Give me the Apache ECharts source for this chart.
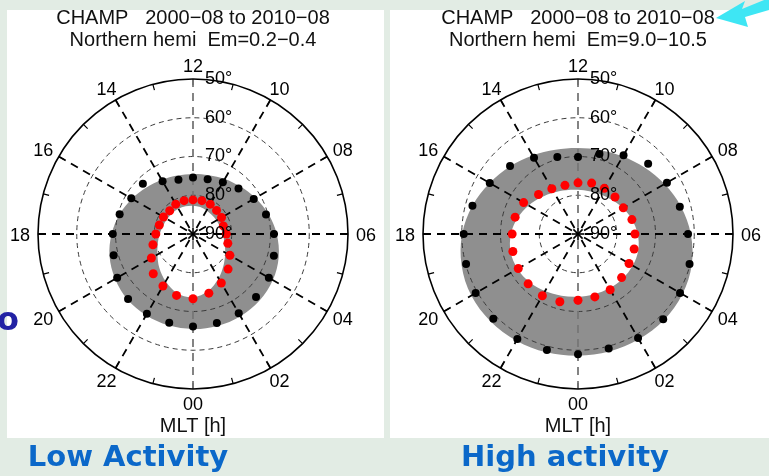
<!DOCTYPE html>
<html>
<head>
<meta charset="utf-8">
<script src="https://cdn.jsdelivr.net/npm/echarts@6/dist/echarts.min.js"></script>
<style>
  html, body { margin: 0; padding: 0; background: #e2ece4; }
  #chart { width: 769px; height: 476px; }
</style>
</head>
<body>
<div id="chart"></div>
<script>
// Magnetic local time of each boundary sample (hours)
const mlt = [0, 1, 2, 3, 4, 5, 6, 7, 8, 9, 10, 11, 12, 13, 14, 15, 16, 17, 18, 19, 20, 21, 22, 23];

// Hour ticks around the dial and latitude rings (degrees)
const hourTicks = [0, 2, 4, 6, 8, 10, 12, 14, 16, 18, 20, 22];
const latRings = [50, 60, 70, 80, 90];

// Low activity (Em = 0.2-0.4): equatorward / poleward boundary latitudes
const lowEquatorward = [66.1, 66.2, 66.4, 67.0, 67.4, 68.4, 69.1, 70.5, 71.9, 73.4, 74.6, 75.4,
                        75.4, 75.5, 74.3, 71.7, 71.6, 70.4, 69.3, 68.8, 67.4, 66.3, 66.2, 66.3];
const lowPoleward    = [73.3, 74.2, 75.4, 77.2, 79.0, 80.7, 81.4, 81.9, 81.5, 81.4, 81.1, 81.1,
                        81.2, 81.1, 81.1, 81.5, 81.2, 81.0, 80.4, 79.3, 77.6, 75.5, 74.5, 73.6];
// Low activity: shaded oval edges
const lowOvalOuter   = [65.5, 65.45, 65.5, 65.7, 66.2, 67.1, 68.4, 69.9, 71.4, 72.7, 73.6, 74.3,
                        74.5, 74.4, 73.9, 73.0, 71.8, 70.4, 69.0, 67.7, 66.8, 66.1, 65.8, 65.6];
const lowOvalInner   = [73.7, 74.8, 76.8, 78.8, 80.4, 81.6, 82.3, 82.8, 83.0, 83.1, 83.0, 82.8,
                        82.7, 82.6, 82.5, 82.4, 82.3, 82.0, 81.4, 80.6, 79.4, 77.7, 75.9, 74.2];

// High activity (Em = 9.0-10.5)
const highEquatorward = [59.0, 59.4, 59.0, 58.9, 59.6, 60.2, 61.6, 62.8, 63.5, 64.4, 66.5, 68.6,
                         70.1, 69.4, 67.3, 65.2, 63.7, 61.8, 60.5, 60.1, 59.5, 59.1, 58.7, 59.0];
const highPoleward    = [72.9, 73.2, 73.4, 74.1, 74.8, 75.0, 75.3, 75.6, 76.5, 76.5, 76.4, 76.4,
                         76.8, 77.0, 76.5, 75.6, 73.8, 73.2, 73.0, 72.6, 72.2, 71.8, 71.6, 71.9];
const highOvalOuter   = [58.6, 58.6, 58.6, 58.6, 58.9, 59.6, 60.9, 62.5, 64.2, 65.7, 66.9, 67.6,
                         67.8, 67.5, 66.6, 65.3, 63.7, 61.8, 60.1, 58.9, 58.2, 58.1, 58.2, 58.4];
const highOvalInner   = [73.8, 73.9, 73.8, 73.7, 73.7, 73.9, 74.6, 75.6, 76.6, 77.6, 78.2, 78.6,
                         78.6, 78.3, 77.6, 76.6, 75.3, 73.9, 72.7, 72.0, 72.0, 72.4, 73.0, 73.5];

const panelTitles = [
  'CHAMP   2000\u221208 to 2010\u221208\nNorthern hemi  Em=0.2\u22120.4',
  'CHAMP   2000\u221208 to 2010\u221208\nNorthern hemi  Em=9.0\u221210.5'
];
const activityLabels = ['Low Activity', 'High activity'];

const FONT = '"Liberation Sans", Arial, Helvetica, sans-serif';
const BOLD_FONT = '"DejaVu Sans", Verdana, sans-serif';
const centers = [[193, 234], [578, 234]];
const R = 155;

function pad2(v) { return v < 10 ? '0' + v : String(v); }

function angleAxisFor(i) {
  return {
    polarIndex: i, type: 'value', min: 0, max: 24, interval: 2,
    startAngle: 270, clockwise: false, z: 3,
    axisLine: { show: true, lineStyle: { color: '#000', width: 1.6 } },
    axisTick: { show: true, inside: true, length: 6, lineStyle: { color: '#000', width: 1.2 } },
    minorTick: { show: true, splitNumber: 2, length: 6, lineStyle: { color: '#000', width: 1.2 } },
    axisLabel: { show: false },
    splitLine: {
      show: true,
      lineStyle: {
        color: ['#777', '#000', '#000', '#000', '#000', '#000', '#777',
                '#000', '#000', '#000', '#000', '#000', '#777'],
        width: 1.8, type: [8, 6]
      }
    }
  };
}

function radiusAxisFor(i) {
  return {
    polarIndex: i, type: 'value', min: 50, max: 90, interval: 10, inverse: true, z: 3,
    axisLine: { show: false }, axisTick: { show: false }, axisLabel: { show: false },
    splitLine: {
      show: true,
      lineStyle: {
        color: ['rgba(0,0,0,0)', '#3a3a3a', '#3a3a3a', '#3a3a3a', 'rgba(0,0,0,0)'],
        width: 1, type: [5, 4]
      }
    }
  };
}

// Shaded auroral oval: outer edge filled grey, inner hole filled white
function ovalRenderer(outer, inner) {
  return function (params, api) {
    const o = mlt.map((h, k) => api.coord([outer[k], h]));
    const n = mlt.map((h, k) => api.coord([inner[k], h]));
    return {
      type: 'group',
      children: [
        { type: 'polygon', shape: { points: o, smooth: 0.35 }, style: { fill: '#8f8f8f' } },
        { type: 'polygon', shape: { points: n, smooth: 0.35 }, style: { fill: '#ffffff' } }
      ]
    };
  };
}

// Asterisk marking the magnetic pole
function poleRenderer(params, api) {
  const c = api.coord([90, 0]);
  const L = 6.5, d = L * Math.SQRT1_2;
  const seg = (x1, y1, x2, y2) => ({
    type: 'line', shape: { x1: c[0] + x1, y1: c[1] + y1, x2: c[0] + x2, y2: c[1] + y2 },
    style: { stroke: '#000', lineWidth: 1.6 }
  });
  return {
    type: 'group',
    children: [seg(-L, 0, L, 0), seg(0, -L, 0, L), seg(-d, -d, d, d), seg(-d, d, d, -d)]
  };
}

// Hour labels sit just outside the rim, pushed outward along each hour's direction
function hourLabelItem(h) {
  const a = h * Math.PI / 12;
  return {
    value: [50, h],
    label: { offset: [18 * Math.sin(a), 14 * Math.cos(a) + 2] }
  };
}

function panelSeries(i, eq, pole, outer, inner) {
  return [
    { type: 'custom', coordinateSystem: 'polar', polarIndex: i, z: 1, silent: true,
      data: [[90, 0]], renderItem: ovalRenderer(outer, inner) },
    { type: 'scatter', coordinateSystem: 'polar', polarIndex: i, z: 5, symbolSize: 8,
      itemStyle: { color: '#000', opacity: 1 }, data: mlt.map((h, k) => [eq[k], h]) },
    { type: 'scatter', coordinateSystem: 'polar', polarIndex: i, z: 5, symbolSize: 9,
      itemStyle: { color: '#ff0000', opacity: 1 }, data: mlt.map((h, k) => [pole[k], h]) },
    { type: 'custom', coordinateSystem: 'polar', polarIndex: i, z: 6, silent: true,
      data: [[90, 0]], renderItem: poleRenderer },
    { type: 'scatter', coordinateSystem: 'polar', polarIndex: i, z: 7, symbolSize: 0,
      itemStyle: { opacity: 1 }, silent: true,
      data: latRings.map(v => [v, 12]),
      label: { show: true, position: 'right', distance: 12, fontSize: 18, color: '#000',
               fontFamily: FONT, formatter: p => p.value[0] + '\u00b0' } },
    { type: 'scatter', coordinateSystem: 'polar', polarIndex: i, z: 7, symbolSize: 0,
      itemStyle: { opacity: 1 }, silent: true,
      data: hourTicks.map(hourLabelItem),
      label: { show: true, position: 'inside', align: 'center', verticalAlign: 'middle',
               fontSize: 18, color: '#000', fontFamily: FONT,
               formatter: p => pad2(p.value[1]) } }
  ];
}

const chart = echarts.init(document.getElementById('chart'), null, { renderer: 'canvas' });

const titles = [];
centers.forEach((c, i) => {
  titles.push({
    text: panelTitles[i], left: c[0], top: 7, textAlign: 'center', padding: 0,
    textStyle: { fontFamily: FONT, fontSize: 20, fontWeight: 'normal', color: '#111', lineHeight: 22.5 }
  });
  titles.push({
    text: 'MLT [h]', left: c[0], top: 416, textAlign: 'center', padding: 0,
    textStyle: { fontFamily: FONT, fontSize: 20, fontWeight: 'normal', color: '#111' }
  });
});
titles.push({
  text: activityLabels[0], left: 128, top: 444, textAlign: 'center', padding: 0,
  textStyle: { fontFamily: BOLD_FONT, fontSize: 29, fontWeight: 'bold', color: '#0b68c9' }
});
titles.push({
  text: activityLabels[1], left: 565, top: 444, textAlign: 'center', padding: 0,
  textStyle: { fontFamily: BOLD_FONT, fontSize: 29, fontWeight: 'bold', color: '#0b68c9' }
});
titles.push({
  text: 'o', left: -3, top: 306, padding: 0,
  textStyle: { fontFamily: BOLD_FONT, fontSize: 32, fontWeight: 'bold', color: '#2222a4' }
});

chart.setOption({
  backgroundColor: '#e2ece4',
  animation: false,
  title: titles,
  graphic: [
    { type: 'rect', z: -10, shape: { x: 7, y: 10, width: 377, height: 428 }, style: { fill: '#ffffff' } },
    { type: 'rect', z: -10, shape: { x: 390, y: 10, width: 379, height: 428 }, style: { fill: '#ffffff' } },
    { type: 'polygon', z: 20,
      shape: { points: [[716, 18], [745, 1], [742, 9], [769, -2], [769, 10], [745, 17], [748, 27]] },
      style: { fill: '#3ee6f4' } }
  ],
  polar: centers.map(c => ({ center: c, radius: R })),
  angleAxis: [angleAxisFor(0), angleAxisFor(1)],
  radiusAxis: [radiusAxisFor(0), radiusAxisFor(1)],
  series: [].concat(
    panelSeries(0, lowEquatorward, lowPoleward, lowOvalOuter, lowOvalInner),
    panelSeries(1, highEquatorward, highPoleward, highOvalOuter, highOvalInner)
  )
});
</script>
</body>
</html>
